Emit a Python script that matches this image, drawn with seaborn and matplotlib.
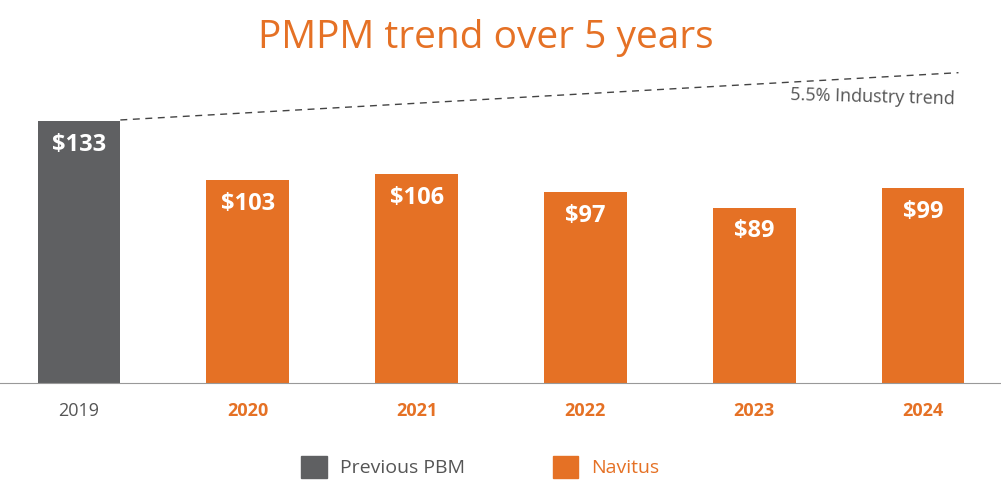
import matplotlib
matplotlib.use("Agg")
import matplotlib.pyplot as plt
import seaborn as sns
import pandas as pd
from matplotlib.patches import Patch

years = ["2019", "2020", "2021", "2022", "2023", "2024"]
pmpm = [133, 103, 106, 97, 89, 99]
groups = ["Previous PBM", "Navitus", "Navitus", "Navitus", "Navitus", "Navitus"]
trend_start, trend_end = 133.5, 157.5

GRAY = "#5f6062"
ORANGE = "#e57125"
plt.rcParams["font.family"] = "Open Sans"

df = pd.DataFrame({"Year": years, "PMPM": pmpm, "Group": groups})

fig = plt.figure(figsize=(10.01, 5.01), dpi=100)
ax = fig.add_axes([0, 0.2355, 1, 0.645])
sns.barplot(data=df, x="Year", y="PMPM", hue="Group",
            palette={"Previous PBM": GRAY, "Navitus": ORANGE},
            width=0.49, dodge=False, legend=False, ax=ax, saturation=1)

for i, v in enumerate(pmpm):
    ax.text(i, v - 6, f"${v}", ha="center", va="top", color="white",
            fontsize=17, fontweight="bold")

ax.plot([0.245, 5.21], [trend_start, trend_end], ls=(0, (5, 4)), color="#444444", lw=1)
ax.text(5.19, 145, "5.5% Industry trend", ha="right", va="center",
        fontsize=13, color="#555555", rotation=-1.5)

ax.set_xlim(-0.468, 5.462)
ax.set_ylim(0, 164)
ax.set_yticks([])
ax.set_xlabel("")
ax.set_ylabel("")
for s in ["top", "left", "right"]:
    ax.spines[s].set_visible(False)
ax.spines["bottom"].set_color("#999999")
ax.tick_params(axis="x", length=0, pad=14, labelsize=13)
for i, lab in enumerate(ax.get_xticklabels()):
    if i == 0:
        lab.set_color("#555555")
    else:
        lab.set_color(ORANGE)
        lab.set_fontweight("bold")

fig.text(0.485, 0.925, "PMPM trend over 5 years", ha="center", va="center",
         fontsize=28, color=ORANGE)

handles = [Patch(color=GRAY, label="Previous PBM"), Patch(color=ORANGE, label="Navitus")]
leg = fig.legend(handles=handles, loc="center", bbox_to_anchor=(0.48, 0.068), ncol=2,
                 frameon=False, fontsize=14, handlelength=1.3, handleheight=1.3,
                 columnspacing=4.5, handletextpad=0.7)
leg.get_texts()[0].set_color("#555555")
leg.get_texts()[1].set_color(ORANGE)

fig.savefig("out.png", dpi=100)
